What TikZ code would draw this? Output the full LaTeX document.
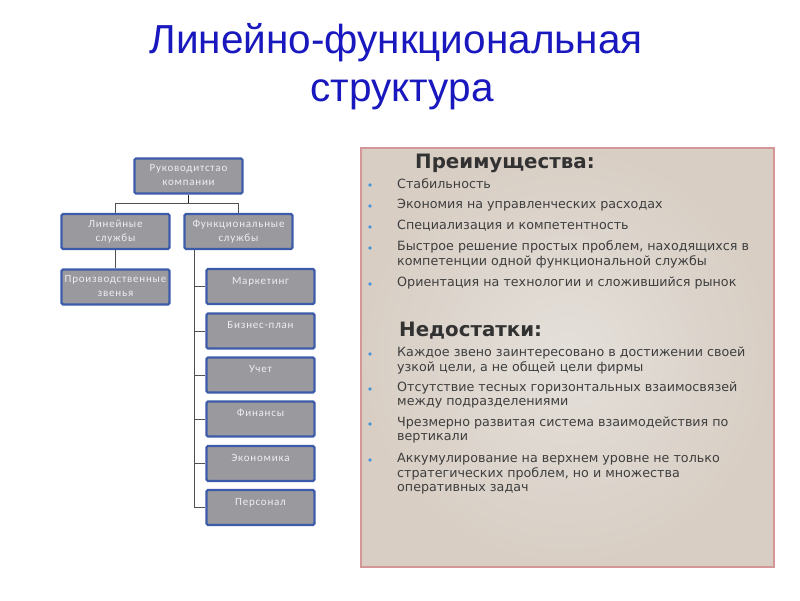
\documentclass[tikz,border=0pt]{standalone}
\usepackage{fontspec}
\setmainfont{Liberation Sans}
\newfontfamily\boxfont{Carlito}
\newfontfamily\panelfont{DejaVu Sans}
\usetikzlibrary{positioning}
\definecolor{titleblue}{RGB}{24,24,190}
\definecolor{boxfill}{RGB}{154,154,158}
\definecolor{boxedge}{RGB}{60,92,170}
\definecolor{boxtext}{RGB}{238,238,240}
\definecolor{linegray}{RGB}{80,80,80}
\definecolor{panelin}{RGB}{228,224,218}
\definecolor{panelout}{RGB}{216,206,196}
\definecolor{paneledge}{RGB}{212,150,150}
\definecolor{paneltext}{RGB}{62,62,62}
\definecolor{bulletblue}{RGB}{70,150,215}
\tikzset{
  orgbox/.style={draw=boxedge, line width=2.4pt, fill=boxfill, inner sep=0pt, rounded corners=1.5pt,
    minimum width=108pt, minimum height=35pt, text=boxtext,
    font=\boxfont\fontsize{11}{14}\selectfont},
  conn/.style={draw=linegray, line width=0.9pt},
  ptext/.style={anchor=west, inner sep=0pt, text=paneltext, font=\panelfont\fontsize{12.7}{15}\selectfont},
  phead/.style={anchor=west, inner sep=0pt, text=paneltext!80!black, font=\panelfont\bfseries\fontsize{19.8}{23}\selectfont},
  pbullet/.style={circle, fill=bulletblue, inner sep=0pt, minimum size=3.6pt},
  titletext/.style={text=titleblue, font=\fontsize{40.5}{46}\selectfont, inner sep=0pt, anchor=base},
}
\newcommand{\btxt}[2]{\parbox[c][33pt][t]{106pt}{\centering\vspace{#1pt}\addfontfeature{LetterSpace=7}#2}}
\begin{document}
\begin{tikzpicture}[x=1pt,y=-1pt]
\useasboundingbox (0,0) rectangle (800,600);
\fill[white] (0,0) rectangle (800,600);
% title
\node[titletext] (t1) at (396,53) {Линейно-функциональная};
\node[titletext] (t2) at (402,101) {структура};
% org chart
\node[orgbox] (top) at (188.5,176) {\btxt{5}{Руководитстао\\компании}};
\node[orgbox] (lin) at (115.5,231.5) {\btxt{5}{Линейные\\службы}};
\node[orgbox] (fun) at (238.5,231.5) {\btxt{5}{Функциональные\\службы}};
\node[orgbox] (prod) at (115.5,287) {\btxt{5}{Производственные\\звенья}};
\node[orgbox] (m1) at (260.5,286.5) {\btxt{7}{Маркетинг}};
\node[orgbox] (m2) at (260.5,331) {\btxt{7}{Бизнес-план}};
\node[orgbox] (m3) at (260.5,375) {\btxt{7}{Учет}};
\node[orgbox] (m4) at (260.5,419) {\btxt{7}{Финансы}};
\node[orgbox] (m5) at (260.5,463.5) {\btxt{7}{Экономика}};
\node[orgbox] (m6) at (260.5,507.5) {\btxt{7}{Персонал}};
\coordinate (split) at (188.5,203);
\draw[conn, line width=1.6pt, draw=black!85] (top.south) -- (split);
\draw[conn] (split -| lin.north) -- (split -| fun.north);
\draw[conn] (split -| lin.north) -- (lin.north);
\draw[conn] (split -| fun.north) -- (fun.north);
\draw[conn] (lin.south) -- (prod.north);
\coordinate (trunk) at (194,250);
\coordinate (trunkend) at (194,507.5);
\draw[conn] (trunk) -- (trunkend);
\foreach \m in {m1,m2,m3,m4,m5,m6}{\draw[conn] (\m.west -| trunk) -- (\m.west);}
% panel
\shade[inner color=panelin, outer color=panelout] (360,147) rectangle (773,566);
\node[draw=paneledge, line width=1.6pt, minimum width=413pt, minimum height=419pt, inner sep=0pt, anchor=north west] (panel) at (360,147) {};
\node[phead] (h1) at (415,163) {Преимущества:};
\node[pbullet] (b1) at (370,185) {};
\node[ptext] (a1) at (397,184) {Стабильность};
\node[pbullet] (b2) at (370,206) {};
\node[ptext] (a2) at (397,205) {Экономия на управленческих расходах};
\node[pbullet] (b3) at (370,227) {};
\node[ptext] (a3) at (397,226) {Специализация и компетентность};
\node[pbullet] (b4) at (370,248) {};
\node[ptext] (a4) at (397,247) {Быстрое решение простых проблем, находящихся в};
\node[ptext] (a4b) at (397,262) {компетенции одной функциональной службы};
\node[pbullet] (b5) at (370,284) {};
\node[ptext] (a5) at (397,283) {Ориентация на технологии и сложившийся рынок};
\node[phead] (h2) at (399,331) {Недостатки:};
\node[pbullet] (c1) at (370,354) {};
\node[ptext] (d1) at (397,353) {Каждое звено заинтересовано в достижении своей};
\node[ptext] (d1b) at (397,368) {узкой цели, а не общей цели фирмы};
\node[pbullet] (c2) at (370,389) {};
\node[ptext] (d2) at (397,388) {Отсутствие тесных горизонтальных взаимосвязей};
\node[ptext] (d2b) at (397,403) {между подразделениями};
\node[pbullet] (c3) at (370,424) {};
\node[ptext] (d3) at (397,423) {Чрезмерно развитая система взаимодействия по};
\node[ptext] (d3b) at (397,438) {вертикали};
\node[pbullet] (c4) at (370,460) {};
\node[ptext] (d4) at (397,459) {Аккумулирование на верхнем уровне не только};
\node[ptext] (d4b) at (397,474) {стратегических проблем, но и множества};
\node[ptext] (d4c) at (397,489) {оперативных задач};
\end{tikzpicture}
\end{document}
